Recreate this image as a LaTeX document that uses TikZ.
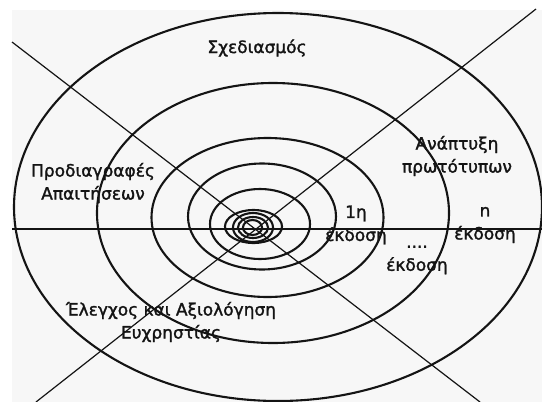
\documentclass[tikz,border=0pt]{standalone}
\usepackage{fontspec}
\setmainfont{DejaVu Sans}
\newfontfamily\lblfont{DejaVu Sans}[FakeBold=1.6]
\definecolor{bg}{RGB}{247,247,247}
\definecolor{ink}{RGB}{20,20,20}
\begin{document}
\begin{tikzpicture}[x=1pt,y=-1pt,
  ring/.style={draw=ink,line width=2.1pt},
  axis/.style={draw=ink,line width=1.2pt},
  lbl/.style={font=\lblfont\fontsize{17}{23}\selectfont, align=center, inner sep=0pt, text=ink}]
\useasboundingbox (0,0) rectangle (542,402);
\fill[bg] (12,10) rectangle (542,402);
% rings
\draw[ring] (278,207) ellipse [x radius=264, y radius=194];
\draw[ring] (273,213) ellipse [x radius=176, y radius=130];
\draw[ring] (267.5,217.5) ellipse [x radius=116, y radius=79.5];
\draw[ring] (262,216.5) ellipse [x radius=74, y radius=53];
\draw[ring] (260,224) ellipse [x radius=50, y radius=35];
\draw[ring] (253.5,226.5) ellipse [x radius=28.5, y radius=16.5];
\draw[ring] (253,227.5) ellipse [x radius=20, y radius=14.5];
\draw[ring] (253,227.5) ellipse [x radius=15, y radius=10.5];
\draw[ring] (252.5,227.5) ellipse [x radius=9.5, y radius=7.5];
% axes
\coordinate (hL) at (12,229);
\coordinate (hR) at (542,229);
\coordinate (d1a) at (12,42);
\coordinate (d1b) at (480,402);
\coordinate (d2a) at (36,402);
\coordinate (d2b) at (536,9);
\draw[axis] (hL) -- (hR);
\draw[axis] (d1a) -- (d1b);
\draw[axis] (d2a) -- (d2b);
% labels
\node[lbl] (plan) at (257,48) {Σχεδιασμός};
\node[lbl] (spec) at (93,183) {Προδιαγραφές\\Απαιτήσεων};
\node[lbl] (proto) at (457,156) {Ανάπτυξη\\πρωτότυπων};
\node[lbl] (v1) at (356,225) {1η\\έκδοση};
\node[lbl] (vn) at (485,225) {n\\έκδοση};
\node[lbl] (vd) at (417,260) {....\\έκδοση};
\node[lbl] (test) at (171,322) {Έλεγχος και Αξιολόγηση\\Ευχρηστίας};
\end{tikzpicture}
\end{document}
